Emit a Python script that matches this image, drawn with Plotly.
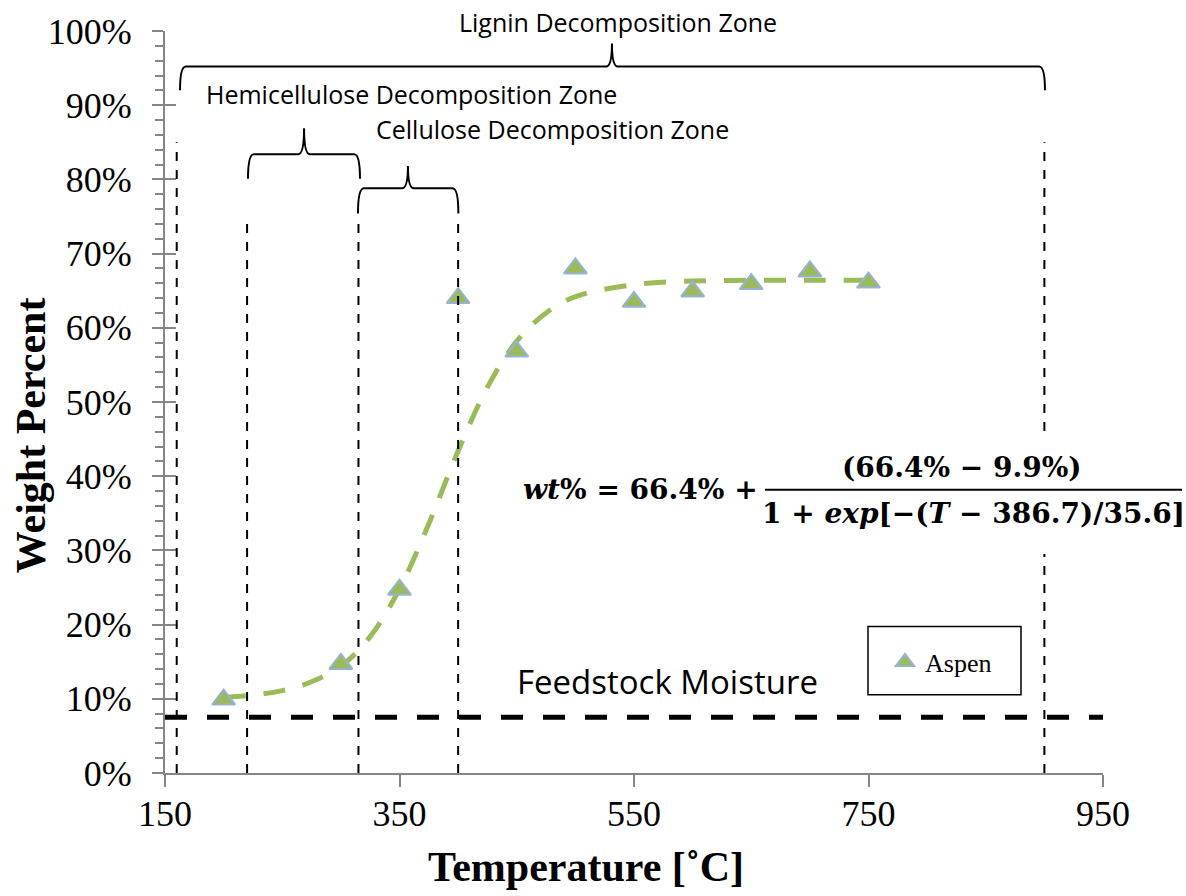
import plotly.graph_objects as go

# ---------------- data ----------------
aspen_T = [200, 300, 350, 400, 450, 500, 550, 600, 650, 700, 750]
aspen_wt = [9.9, 14.7, 24.7, 64.0, 56.8, 68.0, 63.5, 64.9, 65.9, 67.6, 66.1]

fit_T = [200, 225, 250, 275, 300, 325, 350, 375, 400, 425, 450, 475, 500, 550, 600, 650, 700, 750]
fit_wt = [10.2, 10.5, 11.1, 12.3, 14.4, 18.4, 24.8, 33.6, 43.4, 52.0, 58.2, 62.0, 64.2, 65.8, 66.3, 66.4, 66.4, 66.4]

x_ticks = [150, 350, 550, 750, 950]
y_ticks = [0, 10, 20, 30, 40, 50, 60, 70, 80, 90, 100]
y_tick_labels = ["0%", "10%", "20%", "30%", "40%", "50%", "60%", "70%", "80%", "90%", "100%"]

divider_T = [160, 220, 315, 400, 900]
divider_top = [85, 75, 75, 75, 85]
moisture_wt = 7.5

zone_names = ["Lignin Decomposition Zone", "Hemicellulose Decomposition Zone", "Cellulose Decomposition Zone"]
# brace: (left T, right T, tip T, end level, bar level, tip level)
zone_braces = [(162.8, 900.5, 531.2, 92.0, 95.2, 98.3),
               (220.8, 316.3, 268.6, 80.1, 83.4, 86.9),
               (314.6, 400.2, 357.2, 75.4, 78.8, 81.8)]

# ---------------- styles ----------------
GREEN = "#9BBB59"
EDGE = "#95B3D7"
AXIS = "#868686"
SERIF = "Liberation Serif"
SANS = "Open Sans"

W, H = 1186, 896
L, R, T_, B = 165, 83, 24, 123
pw, ph = W - L - R, H - T_ - B


def px2x(p):
    return (p - L) / pw


def px2y(p):
    return (H - B - p) / ph


fig = go.Figure()

fig.add_trace(go.Scatter(
    x=fit_T, y=fit_wt, mode="lines", line=dict(color=GREEN, width=5, dash="22px,18px", shape="spline"),
    showlegend=False, hoverinfo="skip", yaxis="y"))

fig.add_trace(go.Scatter(
    x=aspen_T, y=aspen_wt, mode="markers", name="Aspen",
    marker=dict(symbol="triangle-up", size=20, color=GREEN, line=dict(color=EDGE, width=2)),
    yaxis="y2"))

shapes = []
# vertical dividers
for t, top in zip(divider_T, divider_top):
    shapes.append(dict(type="line", xref="x", yref="y", x0=t, x1=t, y0=0, y1=top,
                       line=dict(color="black", width=2, dash="9px,9px"), layer="above"))
# moisture line
shapes.append(dict(type="line", xref="paper", yref="y", x0=0, x1=1, y0=moisture_wt, y1=moisture_wt,
                   line=dict(color="black", width=5, dash="22px,20px"), layer="above"))
# braces
for (x0, x1, xm, yb, yh, yt) in zone_braces:
    rx = 5
    path = (f"M {x0},{yb} Q {x0},{yh} {x0+rx},{yh} L {xm-rx},{yh} Q {xm},{yh} {xm},{yt} "
            f"Q {xm},{yh} {xm+rx},{yh} L {x1-rx},{yh} Q {x1},{yh} {x1},{yb}")
    shapes.append(dict(type="path", xref="x", yref="y", path=path,
                       line=dict(color="black", width=2)))
# white box behind equation
shapes.append(dict(type="rect", xref="paper", yref="paper", x0=px2x(510), x1=px2x(1186),
                   y0=px2y(552), y1=px2y(434), fillcolor="white", line=dict(width=0), layer="above"))
# fraction bar
shapes.append(dict(type="line", xref="paper", yref="paper", x0=px2x(765), x1=px2x(1182),
                   y0=px2y(487), y1=px2y(487), line=dict(color="black", width=2)))
# legend box
shapes.append(dict(type="rect", xref="paper", yref="paper", x0=px2x(868), x1=px2x(1021),
                   y0=px2y(694), y1=px2y(625), line=dict(color="black", width=1.5)))

annotations = []
zone_label_pos = [(618, 15), (411, 88), (552, 123)]
for name, (cx, cy) in zip(zone_names, zone_label_pos):
    annotations.append(dict(text=name, xref="paper", yref="paper", x=px2x(cx), y=px2y(cy),
                            xanchor="center", yanchor="middle", showarrow=False,
                            font=dict(family=SANS, size=25, color="black")))
annotations.append(dict(text="Feedstock Moisture", xref="paper", yref="paper", x=px2x(667), y=px2y(681),
                        xanchor="center", yanchor="middle", showarrow=False,
                        font=dict(family=SANS, size=33, color="black")))
EQF = dict(family="DejaVu Serif", size=28, color="black")
annotations.append(dict(text="<b><i>wt</i>% = 66.4% +</b>", xref="paper", yref="paper",
                        x=px2x(760), y=px2y(487), xanchor="right", yanchor="middle",
                        showarrow=False, font=EQF))
annotations.append(dict(text="<b>(66.4% − 9.9%)</b>", xref="paper", yref="paper",
                        x=px2x(962), y=px2y(465), xanchor="center", yanchor="middle",
                        showarrow=False, font=EQF))
annotations.append(dict(text="<b>1 + <i>exp</i>[−(<i>T</i> − 386.7)/35.6]</b>", xref="paper", yref="paper",
                        x=px2x(973), y=px2y(511), xanchor="center", yanchor="middle",
                        showarrow=False, font=EQF))
# axis titles
annotations.append(dict(text="<b>Weight Percent</b>", xref="paper", yref="paper",
                        x=px2x(31), y=px2y(432), xanchor="center", yanchor="middle", textangle=-90,
                        showarrow=False, font=dict(family=SERIF, size=42, color="black")))
annotations.append(dict(text="<b>Temperature [˚C]</b>", xref="paper", yref="paper",
                        x=px2x(586), y=px2y(868), xanchor="center", yanchor="middle",
                        showarrow=False, font=dict(family=SERIF, size=42, color="black")))

fig.update_layout(
    width=W, height=H, autosize=False,
    margin=dict(l=L, r=R, t=T_, b=B, pad=0),
    paper_bgcolor="white", plot_bgcolor="white",
    shapes=shapes, annotations=annotations,
    showlegend=True,
    legend=dict(x=px2x(885), y=px2y(661), xanchor="left", yanchor="middle",
                bgcolor="rgba(0,0,0,0)", borderwidth=0,
                font=dict(family=SERIF, size=26, color="black")),
    xaxis=dict(range=[150, 950], tickmode="array", tickvals=x_ticks, ticks="outside", ticklen=12,
               tickwidth=2, tickcolor=AXIS, showline=True, linecolor=AXIS, linewidth=2, showgrid=False,
               zeroline=False, tickfont=dict(family=SERIF, size=36, color="black"),
               ticklabelstandoff=-4),
    yaxis=dict(range=[0, 100], tickmode="array", tickvals=y_ticks, ticktext=y_tick_labels,
               ticks="outside", ticklen=11,
               tickwidth=2, tickcolor=AXIS, showline=True, linecolor=AXIS, linewidth=2,
               showgrid=False, zeroline=False, tickfont=dict(family=SERIF, size=36, color="black"),
               minor=dict(ticks="outside", ticklen=8, tickwidth=1.5, tickcolor=AXIS, dtick=2,
                          showgrid=False),
               ticklabelstandoff=13),
    yaxis2=dict(range=[0, 100], overlaying="y", side="left", tickmode="array", tickvals=y_ticks,
                ticks="inside", ticklen=11, tickwidth=2, tickcolor=AXIS, showticklabels=False,
                showline=False, showgrid=False, zeroline=False),
)

fig.write_html("out.html")
